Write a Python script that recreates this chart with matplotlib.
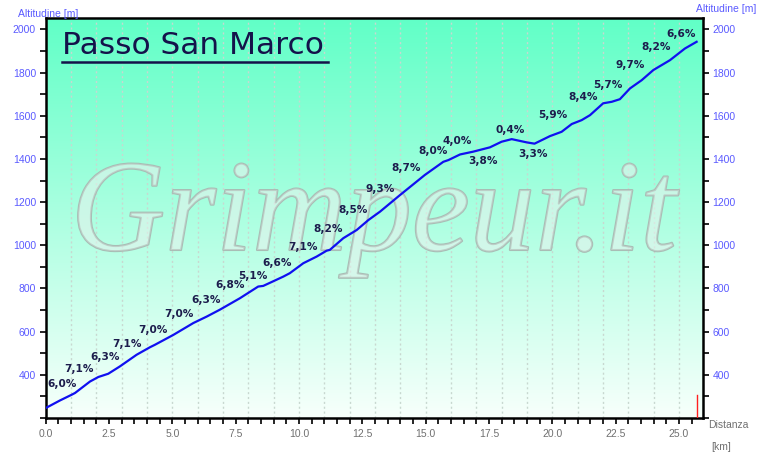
import matplotlib.pyplot as plt
import matplotlib.patheffects as pe
import numpy as np
from matplotlib.ticker import MultipleLocator

# profile (km, m)
dist = [0, 0.56, 1.03, 1.16, 1.75, 2.08, 2.47, 2.93, 3.59, 4.12, 4.31, 5.04,
        5.83, 6.36, 6.88, 7.67, 8.39, 8.59, 9.38, 9.64, 10.17, 10.70, 11.09,
        11.22, 11.75, 12.28, 12.74, 13.2, 13.99, 14.97, 15.70, 15.9, 16.36,
        16.88, 17.54, 18.0, 18.4, 18.99, 19.3, 19.91, 20.37, 20.77, 21.16,
        21.49, 22.01, 22.35, 22.67, 23.07, 23.53, 23.99, 24.65, 25.24, 25.7]
alt = [246, 281, 308, 316, 369, 390, 405, 439, 493, 528, 539, 585,
       640, 670, 702, 755, 809, 812, 855, 871, 917, 948, 975,
       979, 1033, 1071, 1117, 1156, 1233, 1326, 1387, 1395, 1421,
       1434, 1454, 1480, 1492, 1477, 1471, 1506, 1526, 1562, 1580,
       1603, 1658, 1665, 1677, 1727, 1765, 1812, 1858, 1912, 1943]

# gradient labels per km and where they sit
grades = ["6,0%", "7,1%", "6,3%", "7,1%", "7,0%", "7,0%", "6,3%", "6,8%", "5,1%",
          "6,6%", "7,1%", "8,2%", "8,5%", "9,3%", "8,7%", "8,0%", "4,0%", "3,8%",
          "0,4%", "3,3%", "5,9%", "8,4%", "5,7%", "9,7%", "8,2%", "6,6%"]
grade_km = [0.66, 1.31, 2.34, 3.22, 4.25, 5.27, 6.32, 7.28, 8.2, 9.12, 10.17,
            11.16, 12.14, 13.2, 14.22, 15.3, 16.23, 17.25, 18.33, 19.25, 20.04,
            21.22, 22.21, 23.07, 24.1, 25.1]
grade_alt = [359, 427, 484, 545, 609, 681, 747, 817, 858, 917, 991, 1076, 1164,
             1261, 1360, 1437, 1483, 1391, 1534, 1424, 1603, 1685, 1742, 1835,
             1919, 1981]

end_km = 25.72
xmax = 25.94
ymin, ymax = 200, 2051

fig = plt.figure(figsize=(7.6, 4.54), dpi=100)
ax = fig.add_axes([0.0601, 0.0793, 0.8645, 0.88])

# background gradient
grad = np.linspace(0, 1, 256).reshape(-1, 1)
top = np.array([0.38, 1.0, 0.78])
bot = np.array([0.97, 1.0, 0.985])
img = bot + (top - bot) * grad[..., None]
ax.imshow(img, extent=[0, xmax, ymin, ymax], origin='lower', aspect='auto', zorder=0)

for k in range(1, 26):
    ax.axvline(k, color='#c8d8d0', lw=1, ls=(0, (1.5, 2)), zorder=1)

# watermark
ax.text(0.499, 0.4205, "Grimpeur.it", transform=ax.transAxes, ha='center', va='baseline',
        fontsize=94, family='Liberation Serif', style='italic',
        color=(0.9, 0.95, 0.93, 0.35), zorder=2, clip_on=True,
        path_effects=[pe.withStroke(linewidth=1.5, foreground='#a9bdb5')])

ax.plot(dist, alt, color='#1010f0', lw=1.6, zorder=4)
ax.plot([end_km, end_km], [ymin, 307], color='#ff2020', lw=1.0, zorder=4)

for g, x, y in zip(grades, grade_km, grade_alt):
    ax.text(x, y, g, ha='center', va='center', fontsize=7.6, fontweight='bold',
            color='#1c1c4c', family='DejaVu Sans', zorder=5)

ax.set_xlim(0, xmax)
ax.set_ylim(ymin, ymax)
ax.xaxis.set_major_locator(MultipleLocator(2.5))
ax.xaxis.set_minor_locator(MultipleLocator(0.5))
ax.yaxis.set_minor_locator(MultipleLocator(100))
ax.set_yticks([400, 600, 800, 1000, 1200, 1400, 1600, 1800, 2000])
ax.xaxis.set_major_formatter(plt.FuncFormatter(lambda v, p: f"{v:.1f}"))

ax.tick_params(axis='both', which='both', direction='out', length=4, width=1.2,
               color='black', right=True, labelright=True)
ax.tick_params(axis='y', labelsize=7.5, labelcolor='#5a5aff', pad=3)
ax.tick_params(axis='x', labelsize=7.5, labelcolor='#707070', pad=4)
for lab in ax.get_xticklabels() + ax.get_yticklabels():
    lab.set_family('Liberation Sans')
for s in ax.spines.values():
    s.set_linewidth(1.8)

fig.text(18 / 760, 1 - 14 / 454, "Altitudine [m]", fontsize=7.5, color='#5a5aff',
         family='Liberation Sans', va='center')
fig.text(756 / 760, 1 - 9 / 454, "Altitudine [m]", fontsize=7.5, color='#5a5aff',
         family='Liberation Sans', va='center', ha='right')
fig.text(708 / 760, 1 - 425 / 454, "Distanza", fontsize=7.5, color='#707070',
         family='Liberation Sans', va='center')
fig.text(711 / 760, 1 - 447 / 454, "[km]", fontsize=7.5, color='#707070',
         family='Liberation Sans', va='center')

# title with underline
ax.text(62 / 760, 1 - 46 / 454, "Passo San Marco", transform=fig.transFigure,
        fontsize=22.5, color='#14124a', family='DejaVu Sans', va='center', zorder=6)
fig.add_artist(plt.Line2D([62 / 760, 328 / 760], [1 - 62 / 454, 1 - 62 / 454],
                          color='#14124a', lw=1.8))

fig.savefig("out.png", dpi=100)
